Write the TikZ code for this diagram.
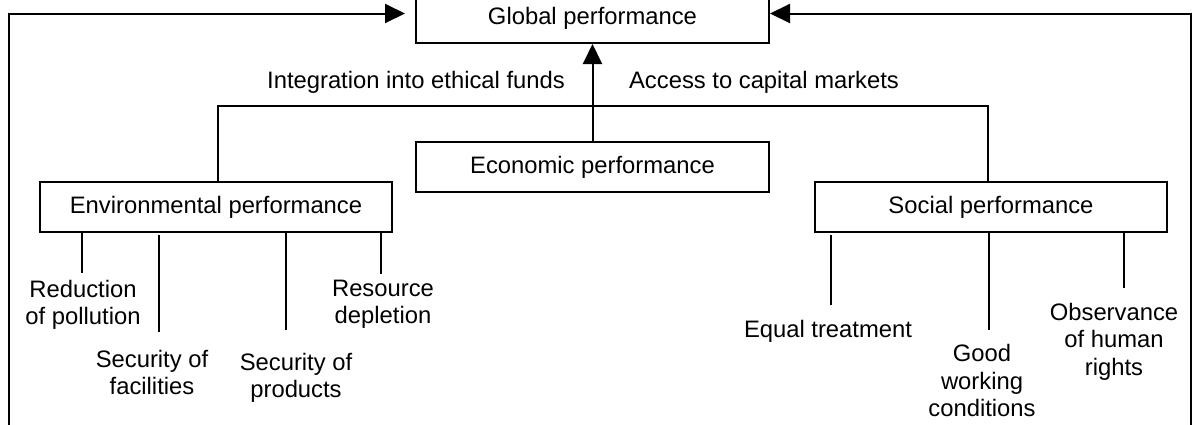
\documentclass[tikz,border=0pt]{standalone}
\usepackage{fontspec}
\setmainfont{Liberation Sans}
\usetikzlibrary{arrows.meta,calc}
\begin{document}
\begin{tikzpicture}[x=1pt,y=-1pt,
  txt/.style={font=\fontsize{23.8}{27.5}\selectfont},
  box/.style={txt,draw,line width=2pt,minimum width=352pt,minimum height=50pt,inner sep=0pt,text height=17.3pt,text depth=5pt},
  lbl/.style={txt,inner sep=0pt,align=center,anchor=north},
  elbl/.style={txt,inner sep=0pt,text height=17.3pt,text depth=5pt},
  conn/.style={line width=2pt},
  arr/.style={line width=2pt,-{Triangle[length=20pt,width=19pt]}}]
\useasboundingbox (0,0) rectangle (1193,424);
% boxes
\node[box,minimum width=353pt] (glob) at (592.5,18) {Global performance};
\node[box,minimum width=353pt] (econ) at (592.5,167) {Economic performance};
\node[box] (env) at (216,207) {Environmental performance};
\node[box] (soc) at (991,207) {Social performance};
% edge labels
\node[elbl] (lint) at (416,82) {Integration into ethical funds};
\node[elbl] (lacc) at (764,82) {Access to capital markets};
% sub labels
\node[lbl] (red) at (83,279.7) {Reduction\\of pollution};
\node[lbl] (fac) at (152,349.7) {Security of\\facilities};
\node[lbl] (prod) at (296,352.7) {Security of\\products};
\node[lbl] (res) at (383,279.7) {Resource\\depletion};
\node[lbl] (eq) at (828,319.7) {Equal treatment};
\begin{scope}
\clip (900,300) rectangle (1060,416);
\node[lbl] (good) at (982,344.5) {Good\\working\\conditions};
\end{scope}
\node[lbl] (obs) at (1114,302.7) {Observance\\of human\\rights};
% outer feedback lines
\coordinate (lb) at (8.5,440);
\coordinate (lt) at (8.5,13.5);
\coordinate (rb) at (1190.5,440);
\coordinate (rt) at (1190.5,13.5);
\draw[arr] (lb) -- (lt) -- ([xshift=-10pt]glob.west |- lt);
\draw[arr] (rb) -- (rt) -- (glob.east |- rt);
% central arrow
\draw[arr] (econ.north) -- (glob.south);
% top branch line
\coordinate (hl) at (218,106);
\coordinate (hr) at (988,106);
\draw[conn] (env.north -| hl) -- (hl) -- (hr) -- (soc.north -| hr);
% environmental sub lines
\coordinate (e1) at (82,273);
\coordinate (e2s) at (159,235);
\coordinate (e2) at (159,332);
\coordinate (e3) at (286,330);
\coordinate (e4) at (381,274);
\draw[conn] (env.south -| e1) -- (e1);
\draw[conn] (e2s) -- (e2);
\draw[conn] (env.south -| e3) -- (e3);
\draw[conn] (env.south -| e4) -- (e4);
% social sub lines
\coordinate (s1s) at (831,235);
\coordinate (s1) at (831,305);
\coordinate (s2) at (989,330);
\coordinate (s3) at (1124,288);
\draw[conn] (s1s) -- (s1);
\draw[conn] (soc.south -| s2) -- (s2);
\draw[conn] (soc.south -| s3) -- (s3);
\end{tikzpicture}
\end{document}
